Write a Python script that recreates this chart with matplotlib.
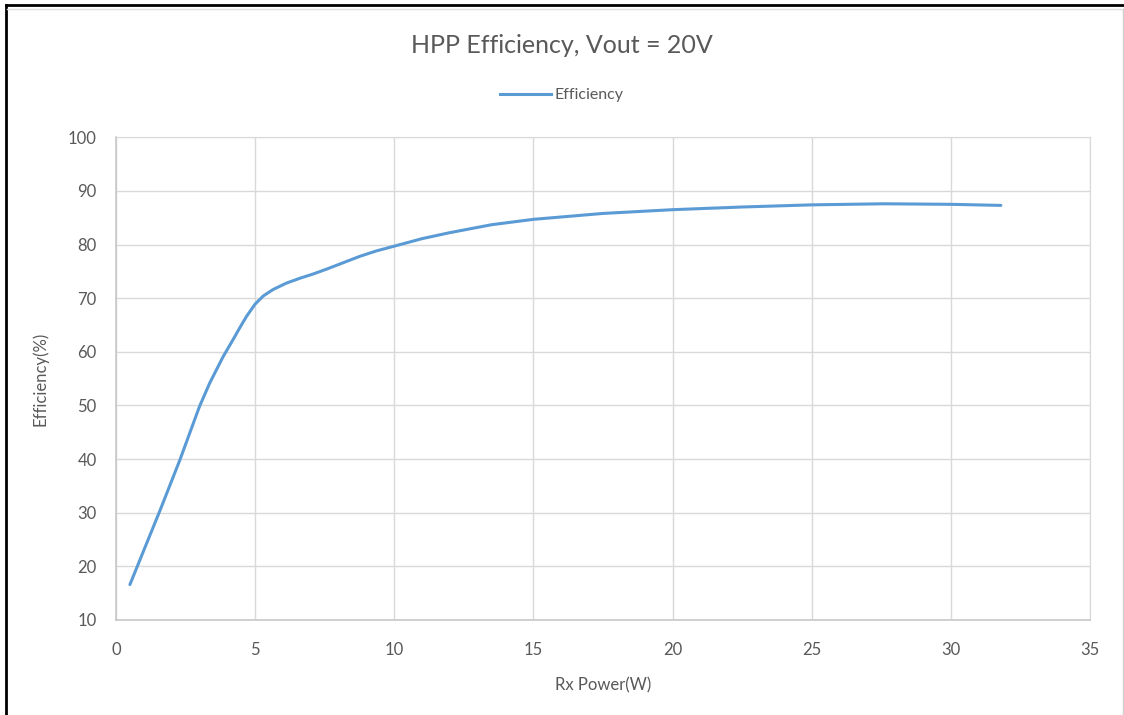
import matplotlib.pyplot as plt
from matplotlib.lines import Line2D

# Data
rx_power = [0.5, 1.0, 1.58, 2.3, 3.0, 3.37, 3.85, 4.21, 4.45, 4.69, 5.0, 5.29, 5.64,
            6.12, 6.6, 7.08, 7.56, 8.16, 8.76, 9.35, 10.0, 11.0, 11.98, 13.5, 15.0,
            17.5, 20.0, 22.5, 25.0, 27.6, 30.0, 31.8]
efficiency = [16.6, 23.0, 30.4, 39.9, 49.8, 54.2, 59.1, 62.3, 64.5, 66.6, 68.9, 70.4, 71.6,
              72.8, 73.7, 74.5, 75.4, 76.6, 77.8, 78.8, 79.7, 81.1, 82.2, 83.7, 84.7,
              85.8, 86.5, 87.0, 87.4, 87.6, 87.5, 87.3]
x_ticks = [0, 5, 10, 15, 20, 25, 30, 35]
y_ticks = [10, 20, 30, 40, 50, 60, 70, 80, 90, 100]

plt.rcParams['font.family'] = ['Lato', 'DejaVu Sans']
text_col = '#595959'
grid_col = '#d9d9d9'

fig = plt.figure(figsize=(11.24, 7.15), dpi=100)
ax = fig.add_axes([0.1032, 0.1329, 0.8665, 0.6751])

ax.plot(rx_power, efficiency, color='#5b9bd5', linewidth=2.2, label='Efficiency',
        solid_capstyle='round', solid_joinstyle='round')

ax.set_xlim(0, 35)
ax.set_ylim(10, 100)
ax.set_xticks(x_ticks)
ax.set_yticks(y_ticks)
ax.grid(True, color=grid_col, linewidth=1.0)
ax.set_axisbelow(True)
ax.tick_params(length=0, labelsize=12, labelcolor=text_col, pad=14)
ax.tick_params(axis='x', pad=16)
for side in ['top', 'right']:
    ax.spines[side].set_color(grid_col)
for side in ['left', 'bottom']:
    ax.spines[side].set_color('#c8c8c8')
    ax.spines[side].set_linewidth(1.2)

ax.set_xlabel('Rx Power(W)', fontsize=12, color=text_col, labelpad=14)
ax.set_ylabel('Efficiency(%)', fontsize=12, color=text_col, labelpad=14)

fig.text(0.5, 0.937, 'HPP Efficiency, Vout = 20V', ha='center', va='center',
         fontsize=18, color=text_col)
fig.legend(handles=[Line2D([], [], color='#5b9bd5', linewidth=2.2)], labels=['Efficiency'],
           loc='center', bbox_to_anchor=(0.5, 0.867), frameon=False, fontsize=11.5,
           labelcolor=text_col, handlelength=3.2, handletextpad=0.2)

# Sheet border around the chart
fig.add_artist(Line2D([0.0053, 0.0053], [0, 0.993], transform=fig.transFigure,
                      color='black', linewidth=2))
fig.add_artist(Line2D([0.0053, 1], [0.993, 0.993], transform=fig.transFigure,
                      color='black', linewidth=2))
fig.add_artist(Line2D([0.0062, 0.999], [0.988, 0.988], transform=fig.transFigure,
                      color='#e0e0e0', linewidth=1))
fig.add_artist(Line2D([0.999, 0.999], [0, 0.988], transform=fig.transFigure,
                      color='#d0d0d0', linewidth=1))

fig.savefig('out.png', dpi=100)
